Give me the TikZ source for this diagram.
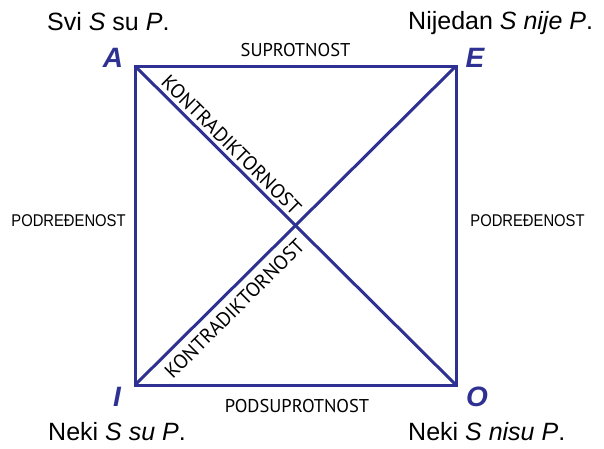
\documentclass[tikz,border=0pt]{standalone}
\usepackage{fontspec}
\setmainfont{Liberation Sans}
\newfontfamily\myriad{PT Sans}
\definecolor{sqblue}{HTML}{2E3192}
\begin{document}
\begin{tikzpicture}[x=1pt,y=-1pt,
  edge/.style={draw=sqblue,line width=3pt,line join=miter},
  corner/.style={text=sqblue,font=\fontsize{28}{30}\selectfont\bfseries\itshape,inner sep=0pt},
  prop/.style={font=\fontsize{25}{28}\selectfont,inner sep=0pt,anchor=base west},
  rel/.style={font=\myriad\fontsize{18.5}{20}\selectfont,inner sep=0pt},
  diag/.style={font=\myriad\fontsize{20}{21}\selectfont,inner sep=0pt},
  sub/.style={font=\fontsize{17}{19}\selectfont,inner sep=0pt}]
\useasboundingbox (0,0) rectangle (604,448);
\coordinate (A) at (135,66);
\coordinate (E) at (456,66);
\coordinate (I) at (135,385);
\coordinate (O) at (456,385);
\draw[edge] (A) -- (E) -- (O) -- (I) -- cycle;
\draw[edge] (A) -- (O);
\draw[edge] (I) -- (E);
\node[corner] (lA) at (113,58) {A};
\node[corner] (lE) at (475,58) {E};
\node[corner] (lI) at (117,397) {I};
\node[corner] (lO) at (477,397) {O};
\node[prop] (pA) at (47,30) {Svi \textit{S} su \textit{P}.};
\node[prop] (pE) at (408,29) {Nijedan \textit{S nije P}.};
\node[prop] (pI) at (48,440) {Neki \textit{S su P}.};
\node[prop] (pO) at (408,440) {Neki \textit{S nisu P}.};
\node[rel] (sup) at (295.5,50.5) {SUPROTNOST};
\node[rel] (psup) at (297,406) {PODSUPROTNOST};
\node[sub] (podl) at (68.5,220.5) {\scalebox{0.87}[1]{PODREĐENOST}};
\node[sub] (podr) at (527.5,221) {\scalebox{0.87}[1]{PODREĐENOST}};
\node[diag,rotate=-44.8] (k1) at (231.5,145) {KONTRADIKTORNOST};
\node[diag,rotate=44.8] (k2) at (234.5,308.5) {KONTRADIKTORNOST};
\end{tikzpicture}
\end{document}
